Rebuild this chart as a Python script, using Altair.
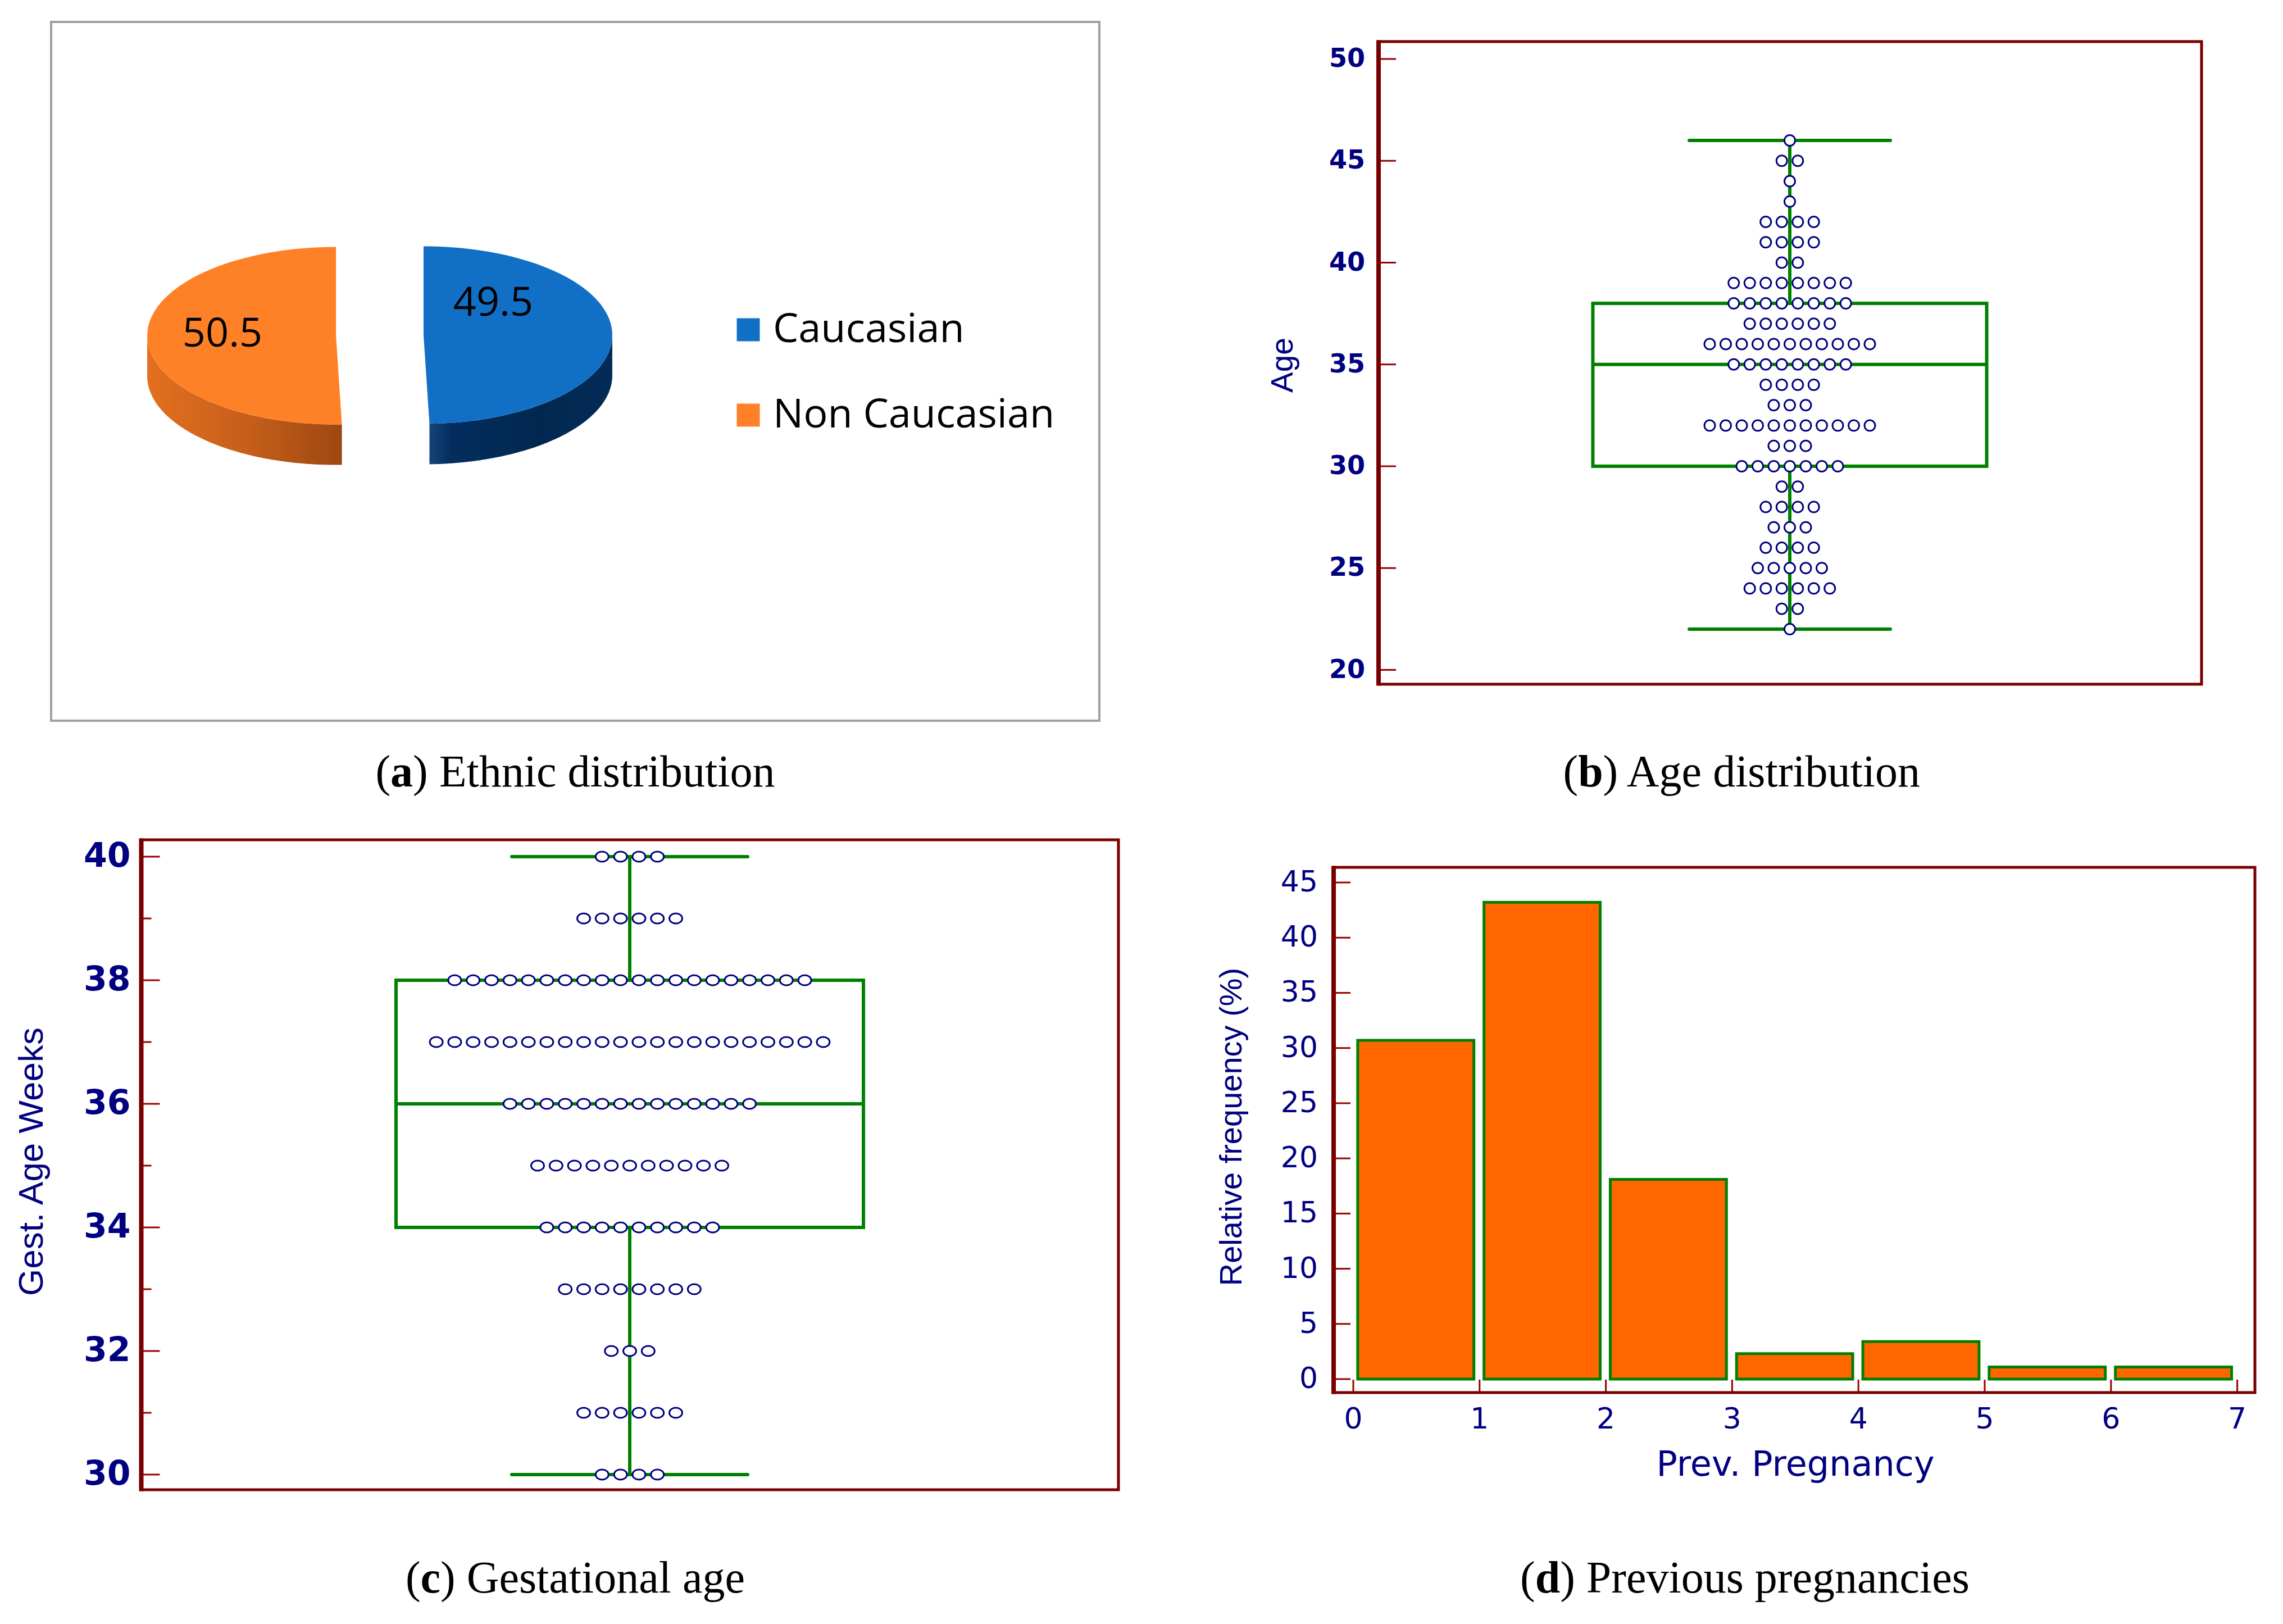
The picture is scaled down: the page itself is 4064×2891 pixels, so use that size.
import altair as alt
import pandas as pd

# ---------------- data ----------------
eth_cats = ["Caucasian", "Non Caucasian"]
eth_vals = [49.5, 50.5]

age_vals = [46, 45, 44, 43, 42, 41, 40, 39, 38, 37, 36, 35, 34, 33, 32, 31, 30, 29, 28, 27, 26, 25, 24, 23, 22]
age_counts = [1, 2, 1, 1, 4, 4, 2, 8, 8, 6, 11, 8, 4, 3, 11, 3, 7, 2, 4, 3, 4, 5, 6, 2, 1]
age_ticks = [20, 25, 30, 35, 40, 45, 50]

ga_vals = [40, 39, 38, 37, 36, 35, 34, 33, 32, 31, 30]
ga_counts = [4, 6, 20, 22, 14, 11, 10, 8, 3, 6, 4]
ga_major = [30, 32, 34, 36, 38, 40]
ga_minor = [31, 33, 35, 37, 39]

preg_start = [0, 1, 2, 3, 4, 5, 6]
preg_freq = [30.7, 43.2, 18.1, 2.3, 3.4, 1.1, 1.1]
preg_yticks = [0, 5, 10, 15, 20, 25, 30, 35, 40, 45]
preg_xticks = [0, 1, 2, 3, 4, 5, 6, 7]

cap_letters = ["a", "b", "c", "d"]
cap_texts = ["Ethnic distribution", "Age distribution", "Gestational age", "Previous pregnancies"]

# ---------------- styles / layout ----------------
W, H = 4048, 2875
NAVY = "#000080"
GREEN = "#008000"
DARKRED = "#780000"
TICKRED = "#990000"
BLUE = "#1170C6"
ORANGE = "#FF8127"
BAR = "#FF6600"
ONE = pd.DataFrame({"a": [0]})


def dots(vals, counts, name):
    rows = []
    for v, c in zip(vals, counts):
        for i in range(c):
            rows.append({name: v, "off": i - (c - 1) / 2})
    return pd.DataFrame(rows)


def frame(L, T, R, B, color, sw, lw):
    box = alt.Chart(ONE).mark_rect(fillOpacity=0, stroke=color, strokeWidth=sw).encode(
        x=alt.value(L), x2=alt.value(R), y=alt.value(T), y2=alt.value(B))
    left = alt.Chart(ONE).mark_rule(color=color, strokeWidth=lw).encode(
        x=alt.value(L), y=alt.value(T - sw / 2), y2=alt.value(B + sw / 2))
    return [box, left]


def vtitle(text, x, y, font, size):
    return alt.Chart(ONE).mark_text(text=text, angle=270, align="center", baseline="middle",
                                    font=font, fontSize=size, color=NAVY).encode(
        x=alt.value(x), y=alt.value(y))


def ylabels(ticks, ys, x, size, weight):
    return alt.Chart(pd.DataFrame({"t": ticks})).mark_text(
        align="right", baseline="middle", font="DejaVu Sans", fontSize=size, fontWeight=weight,
        color=NAVY).encode(y=alt.Y("t:Q", scale=ys, axis=None), x=alt.value(x), text=alt.Text("t:Q", format="d"))


# ---------------- panel a : 3D-like pie ----------------
CX0, CY0, RX, RY = 668, 589, 336, 158
E, D, N = 0.232, 0.456, 90
PX = alt.Scale(domain=[-2, 2], range=[CX0 - 2 * RX, CX0 + 2 * RX], nice=False, zero=False)
PY = alt.Scale(domain=[-2, 2], range=[CY0 + 2 * RY, CY0 - 2 * RY], nice=False, zero=False)
eth_df = pd.DataFrame({"cat": eth_cats, "value": eth_vals})

pie_base = (
    alt.Chart(eth_df)
    .transform_window(cum="sum(value)", sort=[alt.SortField("cat")], frame=[None, 0])
    .transform_joinaggregate(total="sum(value)")
    .transform_calculate(a0="2*PI*(datum.cum - datum.value)/datum.total")
    .transform_calculate(a1="2*PI*datum.cum/datum.total")
    .transform_calculate(mid="(datum.a0 + datum.a1)/2")
    .transform_calculate(ex=f"{E}*sin(datum.mid)")
    .transform_calculate(ey=f"{E}*cos(datum.mid)")
)


def grad(stops):
    return {"gradient": "linear", "x1": 0, "y1": 0, "x2": 1, "y2": 0,
            "stops": [{"offset": o, "color": c} for o, c in stops]}


def wall(cat, g):
    return (
        pie_base.transform_filter(alt.datum.cat == cat)
        .transform_calculate(b0="max(datum.a0, PI/2)")
        .transform_calculate(b1="min(datum.a1, 3*PI/2)")
        .transform_calculate(k=f"sequence(0, {2 * N + 2})")
        .transform_flatten(["k"])
        .transform_calculate(j=f"datum.k <= {N} ? datum.k : {2 * N + 1} - datum.k")
        .transform_calculate(t=f"datum.b0 + (datum.b1 - datum.b0)*datum.j/{N}")
        .transform_calculate(px="datum.ex + sin(datum.t)")
        .transform_calculate(py=f"datum.ey + cos(datum.t) - (datum.k > {N} ? {D} : 0)")
        .mark_line(fill=g, strokeWidth=0)
        .encode(x=alt.X("px:Q", scale=PX, axis=None), y=alt.Y("py:Q", scale=PY, axis=None), order="k:Q")
    )


wall_o = wall("Non Caucasian", grad([(0, "#E2701F"), (0.5, "#C75F1A"), (1, "#9C4812")]))
wall_b = wall("Caucasian", grad([(0, "#164378"), (0.12, "#042D5E"), (0.6, "#00284F"), (1, "#032B57")]))

top = (
    pie_base.transform_calculate(k=f"sequence(0, {N + 2})")
    .transform_flatten(["k"])
    .transform_calculate(t=f"datum.a0 + (datum.a1 - datum.a0)*(datum.k - 1)/{N}")
    .transform_calculate(px="datum.k == 0 ? datum.ex : datum.ex + sin(datum.t)")
    .transform_calculate(py="datum.k == 0 ? datum.ey : datum.ey + cos(datum.t)")
    .mark_line(strokeWidth=0)
    .encode(
        x=alt.X("px:Q", scale=PX, axis=None),
        y=alt.Y("py:Q", scale=PY, axis=None),
        fill=alt.Fill("cat:N", scale=alt.Scale(domain=eth_cats, range=[BLUE, ORANGE]),
                      legend=alt.Legend(title=None, orient="none", legendX=1288, legendY=543,
                                        symbolType="square", symbolSize=1681, symbolStrokeWidth=0,
                                        symbolOpacity=1, labelFont="Open Sans", labelFontSize=72,
                                        labelColor="black", labelOffset=8, rowPadding=80, padding=0,
                                        labelBaseline="middle", labelLimit=2000)),
        detail="cat:N",
        order="k:Q",
    )
)


def pie_label(cat, dx, dy):
    return (
        pie_base.transform_filter(alt.datum.cat == cat)
        .mark_text(font="Open Sans", fontSize=72, color="black", dx=dx, dy=dy)
        .encode(x=alt.X("ex:Q", scale=PX, axis=None), y=alt.Y("ey:Q", scale=PY, axis=None),
                text=alt.Text("value:Q", format=".1f"))
    )


border_a = alt.Chart(ONE).mark_rect(fillOpacity=0, stroke="#A0A0A0", strokeWidth=4).encode(
    x=alt.value(83), x2=alt.value(1949), y=alt.value(31), y2=alt.value(1275))

panel_a = alt.layer(border_a, wall_o, wall_b, top,
                    pie_label("Non Caucasian", -202, -3), pie_label("Caucasian", 124, -56))


# ---------------- box + dot panels ----------------
def box_panel(df, field, xs, ys, half, cap, shape, size, L, T, R, B, ticks_major, tick_len,
              ticks_minor=None, minor_len=0):
    agg = alt.Chart(df).transform_aggregate(
        q1=f"q1({field})", med=f"median({field})", q3=f"q3({field})",
        lo=f"min({field})", hi=f"max({field})")
    Xd = lambda v: alt.X(datum=v, scale=xs, axis=None)
    Yf = lambda f: alt.Y(f"{f}:Q", scale=ys, axis=None)
    box = agg.mark_rect(fillOpacity=0, stroke=GREEN, strokeWidth=6).encode(
        x=Xd(-half), x2=alt.datum(half), y=Yf("q1"), y2="q3:Q")
    med = agg.mark_rule(color=GREEN, strokeWidth=6).encode(x=Xd(-half), x2=alt.datum(half), y=Yf("med"))
    wh_hi = agg.mark_rule(color=GREEN, strokeWidth=6).encode(x=Xd(0), y=Yf("q3"), y2="hi:Q")
    wh_lo = agg.mark_rule(color=GREEN, strokeWidth=6).encode(x=Xd(0), y=Yf("lo"), y2="q1:Q")
    cap_hi = agg.mark_rule(color=GREEN, strokeWidth=6, strokeCap="round").encode(
        x=Xd(-cap), x2=alt.datum(cap), y=Yf("hi"))
    cap_lo = agg.mark_rule(color=GREEN, strokeWidth=6, strokeCap="round").encode(
        x=Xd(-cap), x2=alt.datum(cap), y=Yf("lo"))
    pts = alt.Chart(df).mark_point(shape=shape, size=size, filled=True, fill="white", stroke=NAVY,
                                   strokeWidth=3, opacity=1).encode(
        x=alt.X("off:Q", scale=xs, axis=None), y=alt.Y(f"{field}:Q", scale=ys, axis=None))
    tk = alt.Chart(pd.DataFrame({"t": ticks_major})).mark_rule(color=TICKRED, strokeWidth=3).encode(
        y=alt.Y("t:Q", scale=ys, axis=None), x=alt.value(L), x2=alt.value(L + tick_len))
    layers = [box, med, wh_hi, wh_lo, cap_hi, cap_lo, pts, tk]
    if ticks_minor:
        layers.append(alt.Chart(pd.DataFrame({"t": ticks_minor})).mark_rule(color=TICKRED, strokeWidth=3).encode(
            y=alt.Y("t:Q", scale=ys, axis=None), x=alt.value(L), x2=alt.value(L + minor_len)))
    layers += frame(L, T, R, B, DARKRED, 5, 8)
    return layers


# panel b
LB, TB, RB, BB = 2446, 66, 3911, 1210
CXB, SB = 3178, 28.5
BX = alt.Scale(domain=[-1, 1], range=[CXB - SB, CXB + SB], nice=False, zero=False)
BY = alt.Scale(domain=[20, 50], range=[1184.5, 97], nice=False, zero=False)
panel_b = alt.layer(
    *box_panel(dots(age_vals, age_counts, "age"), "age", BX, BY, 12.3, 6.28, "circle", 361,
               LB, TB, RB, BB, age_ticks, 31),
    ylabels(age_ticks, BY, LB - 24, 46, "bold"),
    vtitle("Age", 2276, 642, "Liberation Sans", 55),
)

# panel c
LC, TC, RC, BC = 243.5, 1487, 1983, 2644
CXC, SC = 1113, 32.8
CXs = alt.Scale(domain=[-1, 1], range=[CXC - SC, CXC + SC], nice=False, zero=False)
CYs = alt.Scale(domain=[30, 40], range=[2617, 1517], nice=False, zero=False)
ELLIPSE = "M-1,0A1,0.78,0,1,1,1,0A1,0.78,0,1,1,-1,0Z"
panel_c = alt.layer(
    *box_panel(dots(ga_vals, ga_counts, "ga"), "ga", CXs, CYs, 416 / SC, 210 / SC, ELLIPSE, 529,
               LC, TC, RC, BC, ga_major, 33, ga_minor, 18),
    ylabels(ga_major, CYs, LC - 19, 60, "bold"),
    vtitle("Gest. Age Weeks", 49, 2060, "Liberation Sans", 62),
)

# ---------------- panel d : histogram ----------------
LD, TD, RD, BD = 2366, 1536, 4006, 2471
DX = alt.Scale(domain=[0, 7], range=[2401, 3974.6], nice=False, zero=False)
DY = alt.Scale(domain=[0, 45], range=[2447, 1563], nice=False, zero=False)
preg_df = pd.DataFrame({"start": preg_start, "freq": preg_freq})
bars = (alt.Chart(preg_df)
        .transform_calculate(x0="datum.start + 0.035", x1="datum.start + 1 - 0.045")
        .mark_rect(fill=BAR, stroke=GREEN, strokeWidth=5)
        .encode(x=alt.X("x0:Q", scale=DX, axis=None), x2="x1:Q",
                y=alt.Y("freq:Q", scale=DY, axis=None), y2=alt.datum(0)))
ytk = alt.Chart(pd.DataFrame({"t": preg_yticks})).mark_rule(color=TICKRED, strokeWidth=3).encode(
    y=alt.Y("t:Q", scale=DY, axis=None), x=alt.value(LD), x2=alt.value(LD + 30))
xtk = alt.Chart(pd.DataFrame({"t": preg_xticks})).mark_rule(color=TICKRED, strokeWidth=3).encode(
    x=alt.X("t:Q", scale=DX, axis=None), y=alt.value(BD), y2=alt.value(BD - 23))
xlab = alt.Chart(pd.DataFrame({"t": preg_xticks})).mark_text(
    align="center", baseline="middle", font="DejaVu Sans", fontSize=52, color=NAVY).encode(
    x=alt.X("t:Q", scale=DX, axis=None), y=alt.value(2519), text=alt.Text("t:Q", format="d"))
xtitle = alt.Chart(ONE).mark_text(text="Prev. Pregnancy", align="center", baseline="middle",
                                  font="DejaVu Sans", fontSize=62, color=NAVY).encode(
    x=alt.value(3188), y=alt.value(2600))
panel_d = alt.layer(bars, ytk, xtk, xlab, ylabels(preg_yticks, DY, LD - 28, 52, "normal"), xtitle,
                    vtitle("Relative frequency (%)", 2185, 1998, "Liberation Sans", 56),
                    *frame(LD, TD, RD, BD, DARKRED, 5, 8))

# ---------------- captions ----------------
TIMES = {" ": 0.25, "(": 0.333, ")": 0.333, "A": 0.722, "E": 0.611, "G": 0.722, "P": 0.556,
         "a": 0.444, "b": 0.5, "c": 0.444, "d": 0.5, "e": 0.444, "g": 0.5, "h": 0.5, "i": 0.278,
         "l": 0.278, "n": 0.5, "o": 0.5, "p": 0.5, "r": 0.333, "s": 0.389, "t": 0.278, "u": 0.5,
         "v": 0.5, "y": 0.5}
TIMES_B = {"a": 0.5, "b": 0.556, "c": 0.444, "d": 0.556}
FS = 80
cap_centers = [(1016, 1392), (3094.5, 1392), (1016, 2827), (3098, 2827)]
captions = []
for letter, txt, (cx, by) in zip(cap_letters, cap_texts, cap_centers):
    rest = ") " + txt
    wb = TIMES_B[letter]
    total = (TIMES["("] + wb + sum(TIMES.get(ch, 0.5) for ch in rest)) * FS
    x0 = cx - total / 2
    common = dict(align="left", baseline="alphabetic", font="Liberation Serif", fontSize=FS, color="black")
    captions.append(alt.Chart(ONE).mark_text(text="(", **common).encode(x=alt.value(x0), y=alt.value(by)))
    captions.append(alt.Chart(ONE).mark_text(text=letter, fontWeight="bold", **common).encode(
        x=alt.value(x0 + TIMES["("] * FS), y=alt.value(by)))
    captions.append(alt.Chart(ONE).mark_text(text=rest, **common).encode(
        x=alt.value(x0 + (TIMES["("] + wb) * FS), y=alt.value(by)))

chart = (
    alt.layer(panel_a, panel_b, panel_c, panel_d, *captions)
    .resolve_scale(x="independent", y="independent")
    .properties(width=W, height=H, padding=0, autosize=alt.AutoSizeParams(type="none"),
                background="white")
    .configure_view(strokeWidth=0)
)

chart.save("out.html", embed_options={"renderer": "svg", "actions": False})
